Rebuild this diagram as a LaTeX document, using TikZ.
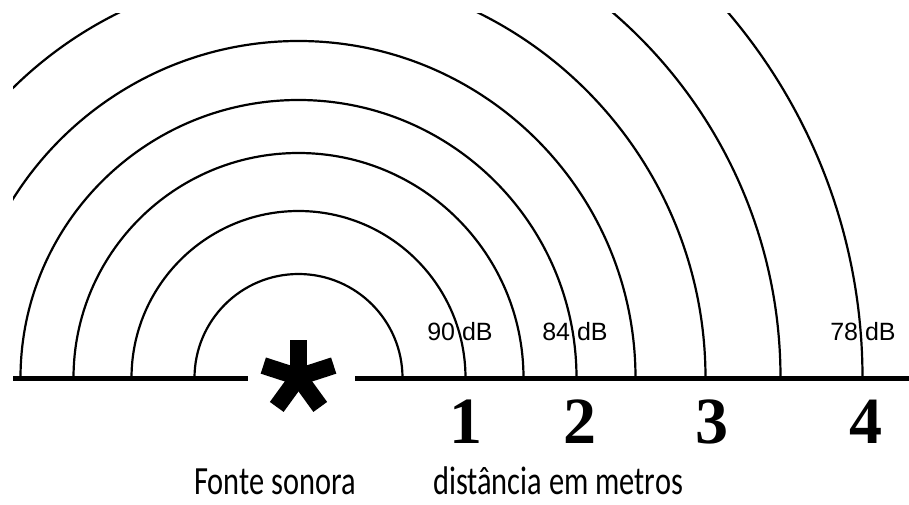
\documentclass[tikz,border=0pt]{standalone}
\usepackage{fontspec}
\setmainfont{Carlito}
\newfontfamily\capfont[FakeStretch=0.76]{Carlito}
\newfontfamily\dbfont{Liberation Sans}
\newfontfamily\numfont{Liberation Serif}
\usetikzlibrary{positioning}

\begin{document}
\begin{tikzpicture}[x=1pt, y=1pt,
    wave/.style={line width=2.2pt},
    ground/.style={line width=5pt},
    ray/.style={line width=17pt},
    dblabel/.style={font=\dbfont\fontsize{25}{25}\selectfont, anchor=base, inner sep=0pt},
    metre/.style={font=\numfont\bfseries\fontsize{66}{66}\selectfont, anchor=base, inner sep=0pt},
    caption/.style={font=\capfont\fontsize{40}{40}\selectfont, anchor=base, inner sep=0pt}]
  \useasboundingbox (0,0) rectangle (909,504);
  \coordinate (src) at (298.5,126);
  \coordinate (gl) at (13,126);
  \coordinate (gr) at (909,126);
  % sound waves
  \begin{scope}
    \clip (13,0) rectangle (909,490);
    \foreach \r in {104,167,225,278,337,407,482,564}
      \draw[wave] ([xshift=\r pt]src) arc[start angle=0, end angle=180, radius=\r];
  \end{scope}
  % ground line, gap at the source
  \draw[ground] (gl) -- ([xshift=-50.5pt]src);
  \draw[ground] ([xshift=56.5pt]src) -- (gr);
  % the source
  \foreach \a in {18,90,162,234,306}
    \draw[ray] ([yshift=1pt]src) -- ++(\a:37);
  \node[dblabel] (db90) at (460,164) {90 dB};
  \node[dblabel] (db84) at (575,164) {84 dB};
  \node[dblabel] (db78) at (863,164) {78 dB};
  \node[metre] (m1) at (466,61) {1};
  \node[metre] (m2) at (580,61) {2};
  \node[metre] (m3) at (712,61) {3};
  \node[metre] (m4) at (866,61) {4};
  \node[caption] (fonte) at (275,10) {Fonte sonora};
  \node[caption] (dist) at (558,10) {distância em metros};
\end{tikzpicture}
\end{document}
